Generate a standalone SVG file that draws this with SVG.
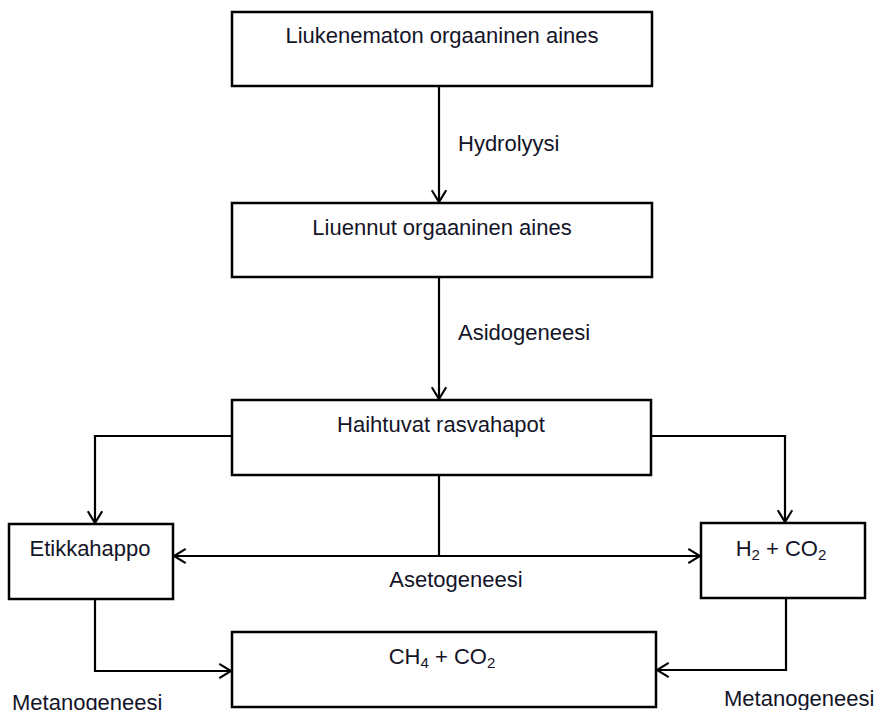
<svg xmlns="http://www.w3.org/2000/svg" width="877" height="710" viewBox="0 0 877 710">
  <defs>
    <style>
      .box { fill: #ffffff; stroke: #000000; stroke-width: 2.5; }
      .conn { fill: none; stroke: #000000; stroke-width: 2.2; }
      .t { font-family: "Liberation Sans", Arial, sans-serif; font-size: 22px; fill: #141428; }
      .c { text-anchor: middle; }
      .sub { font-size: 15px; }
    </style>
    <marker id="arr" markerUnits="userSpaceOnUse" markerWidth="16" markerHeight="18" refX="13" refY="8" orient="auto-start-reverse" viewBox="-2 -2 16 20">
      <path d="M0,0 L13,8 L0,16" fill="none" stroke="#000000" stroke-width="2.4"/>
    </marker>
  </defs>
  <rect width="877" height="710" fill="#ffffff"/>

  <g id="connectors">
    <line class="conn" x1="439" y1="86" x2="439" y2="202" marker-end="url(#arr)"/>
    <line class="conn" x1="439" y1="277" x2="439" y2="399" marker-end="url(#arr)"/>
    <polyline class="conn" points="232,436 95,436 95,523" marker-end="url(#arr)"/>
    <polyline class="conn" points="651,436 785,436 785,522" marker-end="url(#arr)"/>
    <line class="conn" x1="439" y1="475" x2="439" y2="556"/>
    <line class="conn" x1="174" y1="556" x2="700" y2="556" marker-start="url(#arr)" marker-end="url(#arr)"/>
    <polyline class="conn" points="95,599 95,671 231,671" marker-end="url(#arr)"/>
    <polyline class="conn" points="786,598 786,670 657,670" marker-end="url(#arr)"/>
    <text class="t" x="458" y="151">Hydrolyysi</text>
    <text class="t" x="458" y="340">Asidogeneesi</text>
    <text class="t c" x="456" y="587">Asetogeneesi</text>
    <text class="t" x="12" y="710">Metanogeneesi</text>
    <text class="t" x="724" y="706">Metanogeneesi</text>
  </g>

  <g id="n1">
    <rect class="box" x="232" y="12" width="420" height="74"/>
    <text class="t c" x="442" y="43">Liukenematon orgaaninen aines</text>
  </g>
  <g id="n2">
    <rect class="box" x="232" y="203" width="420" height="74"/>
    <text class="t c" x="442" y="235">Liuennut orgaaninen aines</text>
  </g>
  <g id="n3">
    <rect class="box" x="232" y="400" width="419" height="75"/>
    <text class="t c" x="441" y="432">Haihtuvat rasvahapot</text>
  </g>
  <g id="n4">
    <rect class="box" x="9" y="524" width="164" height="75"/>
    <text class="t c" x="90" y="556">Etikkahappo</text>
  </g>
  <g id="n5">
    <rect class="box" x="701" y="523" width="164" height="75"/>
    <text class="t c" x="781" y="556">H<tspan class="sub" dy="4">2</tspan><tspan dy="-4"> + CO</tspan><tspan class="sub" dy="4">2</tspan></text>
  </g>
  <g id="n6">
    <rect class="box" x="232" y="632" width="424" height="75"/>
    <text class="t c" x="442" y="664">CH<tspan class="sub" dy="4">4</tspan><tspan dy="-4"> + CO</tspan><tspan class="sub" dy="4">2</tspan></text>
  </g>
</svg>
